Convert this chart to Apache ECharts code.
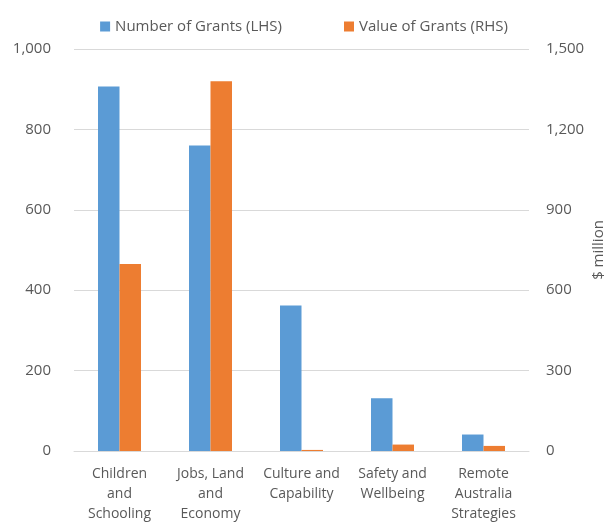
<!DOCTYPE html>
<html>
<head>
<meta charset="utf-8">
<script src="https://cdn.jsdelivr.net/npm/echarts@6/dist/echarts.min.js"></script>
<style>html,body{margin:0;padding:0;background:#fff}#c{width:608px;height:527px}</style>
</head>
<body>
<div id="c"></div>
<script>
var categories = ['Children\nand\nSchooling', 'Jobs, Land\nand\nEconomy', 'Culture and\nCapability', 'Safety and\nWellbeing', 'Remote\nAustralia\nStrategies'];
var numberOfGrants = [907, 760, 362, 131, 41];
var valueOfGrants = [698, 1380, 4, 24, 19];
var leftTicks = [0, 1000, 200];
var rightTicks = [0, 1500, 300];

var font = 'Open Sans';
var textColor = '#595959';
var chart = echarts.init(document.getElementById('c'), null, {renderer: 'canvas'});
chart.setOption({
  animation: false,
  textStyle: {fontFamily: font},
  legend: {
    top: 14, left: 'center',
    itemWidth: 10, itemHeight: 10, itemGap: 62, itemTextGap: 5,
    textStyle: {fontFamily: font, fontSize: 15, color: textColor},
    data: [
      {name: 'Number of Grants (LHS)', icon: 'rect'},
      {name: 'Value of Grants (RHS)', icon: 'rect'}
    ]
  },
  grid: {left: 74, right: 79, top: 49, bottom: 76, containLabel: false, outerBoundsMode: 'none'},
  xAxis: {
    type: 'category', data: categories,
    axisLine: {show: true, lineStyle: {color: '#D9D9D9'}},
    axisTick: {show: false},
    axisLabel: {interval: 0, margin: 13, fontFamily: font, fontSize: 14, color: textColor, lineHeight: 20}
  },
  yAxis: [
    {
      type: 'value', min: leftTicks[0], max: leftTicks[1], interval: leftTicks[2],
      axisLabel: {margin: 23, fontFamily: font, fontSize: 15, color: textColor,
        formatter: function (v) { return v.toLocaleString('en-US'); }},
      splitLine: {lineStyle: {color: '#D9D9D9'}},
      axisLine: {show: false}, axisTick: {show: false}
    },
    {
      type: 'value', min: rightTicks[0], max: rightTicks[1], interval: rightTicks[2],
      position: 'right',
      name: '$ million', nameLocation: 'middle', nameRotate: 90, nameGap: 62,
      nameMoveOverlap: false,
      nameTextStyle: {fontFamily: font, fontSize: 15, color: textColor},
      axisLabel: {margin: 17, fontFamily: font, fontSize: 15, color: textColor,
        formatter: function (v) { return v.toLocaleString('en-US'); }},
      splitLine: {show: false},
      axisLine: {show: false}, axisTick: {show: false}
    }
  ],
  series: [
    {name: 'Number of Grants (LHS)', type: 'bar', yAxisIndex: 0, data: numberOfGrants,
      barWidth: 21.5, barGap: '0%', itemStyle: {color: '#5B9BD5'}},
    {name: 'Value of Grants (RHS)', type: 'bar', yAxisIndex: 1, data: valueOfGrants,
      barWidth: 21.5, barGap: '0%', itemStyle: {color: '#ED7D31'}}
  ]
});
</script>
</body>
</html>
